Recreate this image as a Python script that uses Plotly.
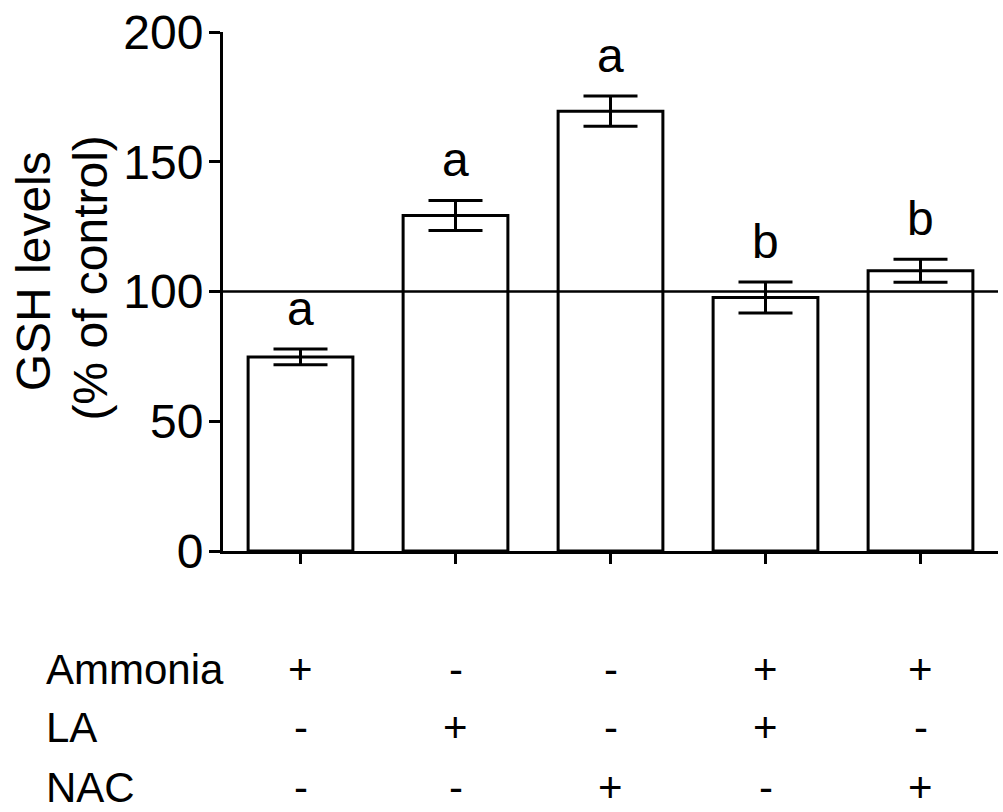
import plotly.graph_objects as go

groups = ["G1", "G2", "G3", "G4", "G5"]
gsh_mean = [74.8, 129.3, 169.5, 97.7, 108.0]
gsh_sem = [3.0, 5.8, 5.8, 6.0, 4.4]
sig_letters = ["a", "a", "a", "b", "b"]
control_level = 100

row_labels = ["Ammonia", "LA", "NAC"]
ammonia = ["+", "-", "-", "+", "+"]
la = ["-", "+", "-", "+", "-"]
nac = ["-", "-", "+", "-", "+"]
table_rows = [ammonia, la, nac]

title_lines = ["GSH levels", "(% of control)"]

FONT = "Liberation Sans, Arial, sans-serif"
x_idx = list(range(len(groups)))

fig = go.Figure()
fig.add_trace(go.Bar(
    x=x_idx, y=gsh_mean, width=0.676,
    marker=dict(color="white", line=dict(color="black", width=3)),
    error_y=dict(type="data", array=gsh_sem, visible=True,
                 color="black", thickness=3, width=27),
    showlegend=False,
))

annotations = []
for i, (m, s, l) in enumerate(zip(gsh_mean, gsh_sem, sig_letters)):
    annotations.append(dict(x=i, y=m + s, xref="x", yref="y", text=l,
                            showarrow=False, yanchor="bottom", yshift=12,
                            font=dict(size=48, color="black", family=FONT)))

row_y = [-0.229, -0.341, -0.455]
for r, (lab, vals) in enumerate(zip(row_labels, table_rows)):
    annotations.append(dict(x=-0.231, y=row_y[r], xref="paper", yref="paper",
                            text=lab, showarrow=False, xanchor="left",
                            yanchor="middle",
                            font=dict(size=42, color="black", family=FONT)))
    for i, v in enumerate(vals):
        annotations.append(dict(x=i, y=row_y[r], xref="x", yref="paper",
                                text=v, showarrow=False, xanchor="center",
                                yanchor="middle",
                                font=dict(size=42, color="black", family=FONT)))

title_pos = [(-0.2435, 0.5395), (-0.1715, 0.525)]
for t, (tx, ty) in zip(title_lines, title_pos):
    annotations.append(dict(x=tx, y=ty, xref="paper", yref="paper", text=t,
                            textangle=-90, showarrow=False, xanchor="center",
                            yanchor="middle",
                            font=dict(size=48, color="black", family=FONT)))

fig.add_shape(type="line", xref="paper", yref="y", x0=0, x1=1,
              y0=control_level, y1=control_level,
              line=dict(color="black", width=2.5), layer="above")

fig.update_layout(
    width=1003, height=812,
    margin=dict(l=223, r=5, t=32, b=261),
    plot_bgcolor="white", paper_bgcolor="white",
    font=dict(family=FONT, color="black"),
    annotations=annotations,
    xaxis=dict(range=[-0.5, 4.5], tickmode="array", tickvals=x_idx,
               ticktext=["" for _ in groups], ticks="outside", ticklen=10,
               tickwidth=2.5, tickcolor="black", showline=True,
               linecolor="black", linewidth=3, showgrid=False, zeroline=False),
    yaxis=dict(range=[0, 200], tickvals=[0, 50, 100, 150, 200],
               ticks="outside", ticklen=11, tickwidth=3, tickcolor="black",
               showline=True, linecolor="black", linewidth=3,
               showgrid=False, zeroline=False, ticklabelstandoff=-4,
               tickfont=dict(size=48, color="black", family=FONT)),
)

fig.write_html("out.html")
